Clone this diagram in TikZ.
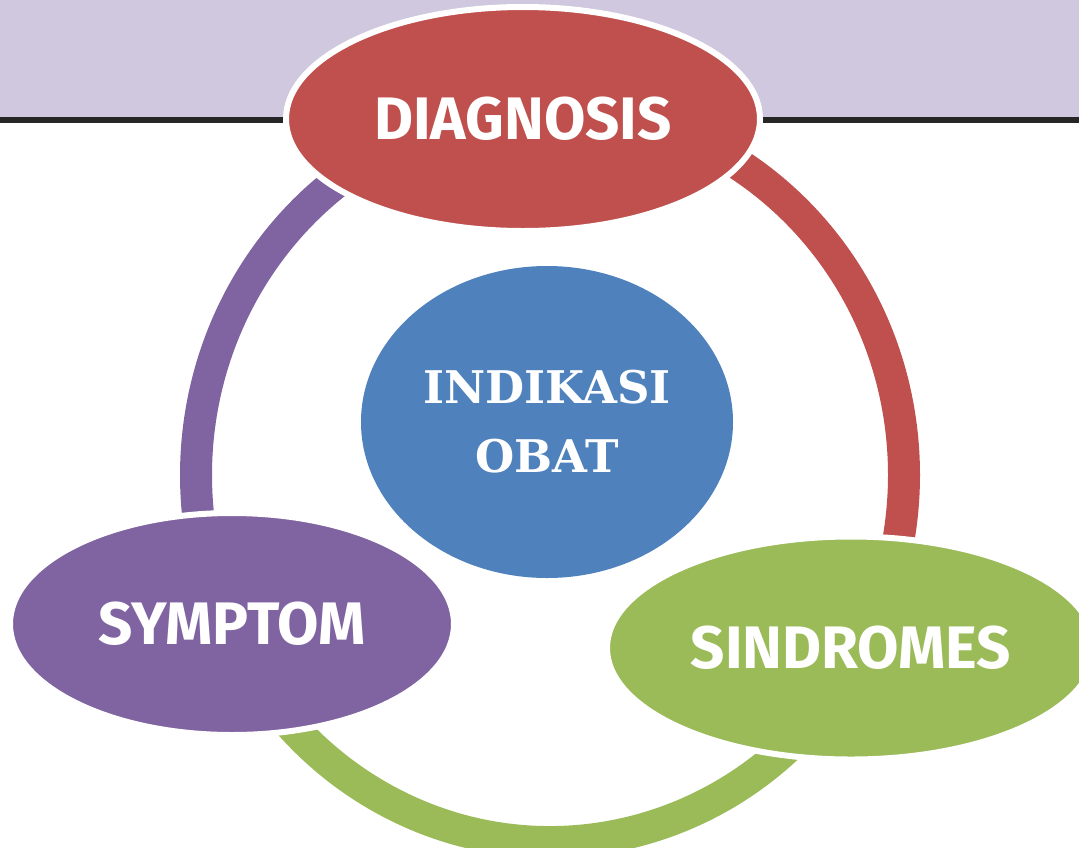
\documentclass[tikz,border=0pt]{standalone}
\usepackage{fontspec}
\usepackage{xcolor}
\usetikzlibrary{shapes.geometric, positioning, calc}
\newfontfamily\bubblefont{Fira Sans}
\newfontfamily\centerfont{DejaVu Serif}
\definecolor{bandlilac}{RGB}{208,200,222}
\definecolor{bandline}{RGB}{38,38,38}
\definecolor{diagred}{RGB}{192,80,77}
\definecolor{obatblue}{RGB}{79,129,189}
\definecolor{sindgreen}{RGB}{155,187,89}
\definecolor{sympurple}{RGB}{128,100,162}

\begin{document}
\begin{tikzpicture}[x=1pt, y=-1pt,
  bubble/.style={ellipse, draw=white, line width=6pt, inner sep=0pt, text=white,
    font=\bubblefont\bfseries\fontsize{60}{60}\selectfont},
  ringarc/.style={line width=32pt}]
\useasboundingbox (0,0) rectangle (1079,847);
\fill[bandlilac] (0,0) rectangle (1079,117);
\draw[bandline, line width=6pt] (0,120) -- (1079,120);
% ring behind the bubbles
\coordinate (ring) at (550,475);
\draw[ringarc, sympurple] (ring) ++(155:354 and 367) arc[start angle=155, end angle=266, x radius=354, y radius=367];
\draw[ringarc, diagred] (ring) ++(266:354 and 367) arc[start angle=266, end angle=390, x radius=354, y radius=367];
\draw[ringarc, sindgreen] (ring) ++(30:354 and 367) arc[start angle=30, end angle=155, x radius=354, y radius=367];
\node[bubble, fill=diagred, minimum width=474pt, minimum height=224pt] (diagnosis) at (523,119) {DIAGNOSIS};
\node[bubble, fill=obatblue, draw=none, minimum width=372pt, minimum height=312pt, align=center,
  font=\centerfont\bfseries\fontsize{45}{69}\selectfont] (indikasi) at (547,422) {INDIKASI\\OBAT};
\node[bubble, fill=sympurple, minimum width=444pt, minimum height=222pt] (symptom) at (232,624) {SYMPTOM};
\node[bubble, fill=sindgreen, minimum width=488pt, minimum height=223pt] (sindromes) at (851,648) {SINDROMES};
\end{tikzpicture}
\end{document}
